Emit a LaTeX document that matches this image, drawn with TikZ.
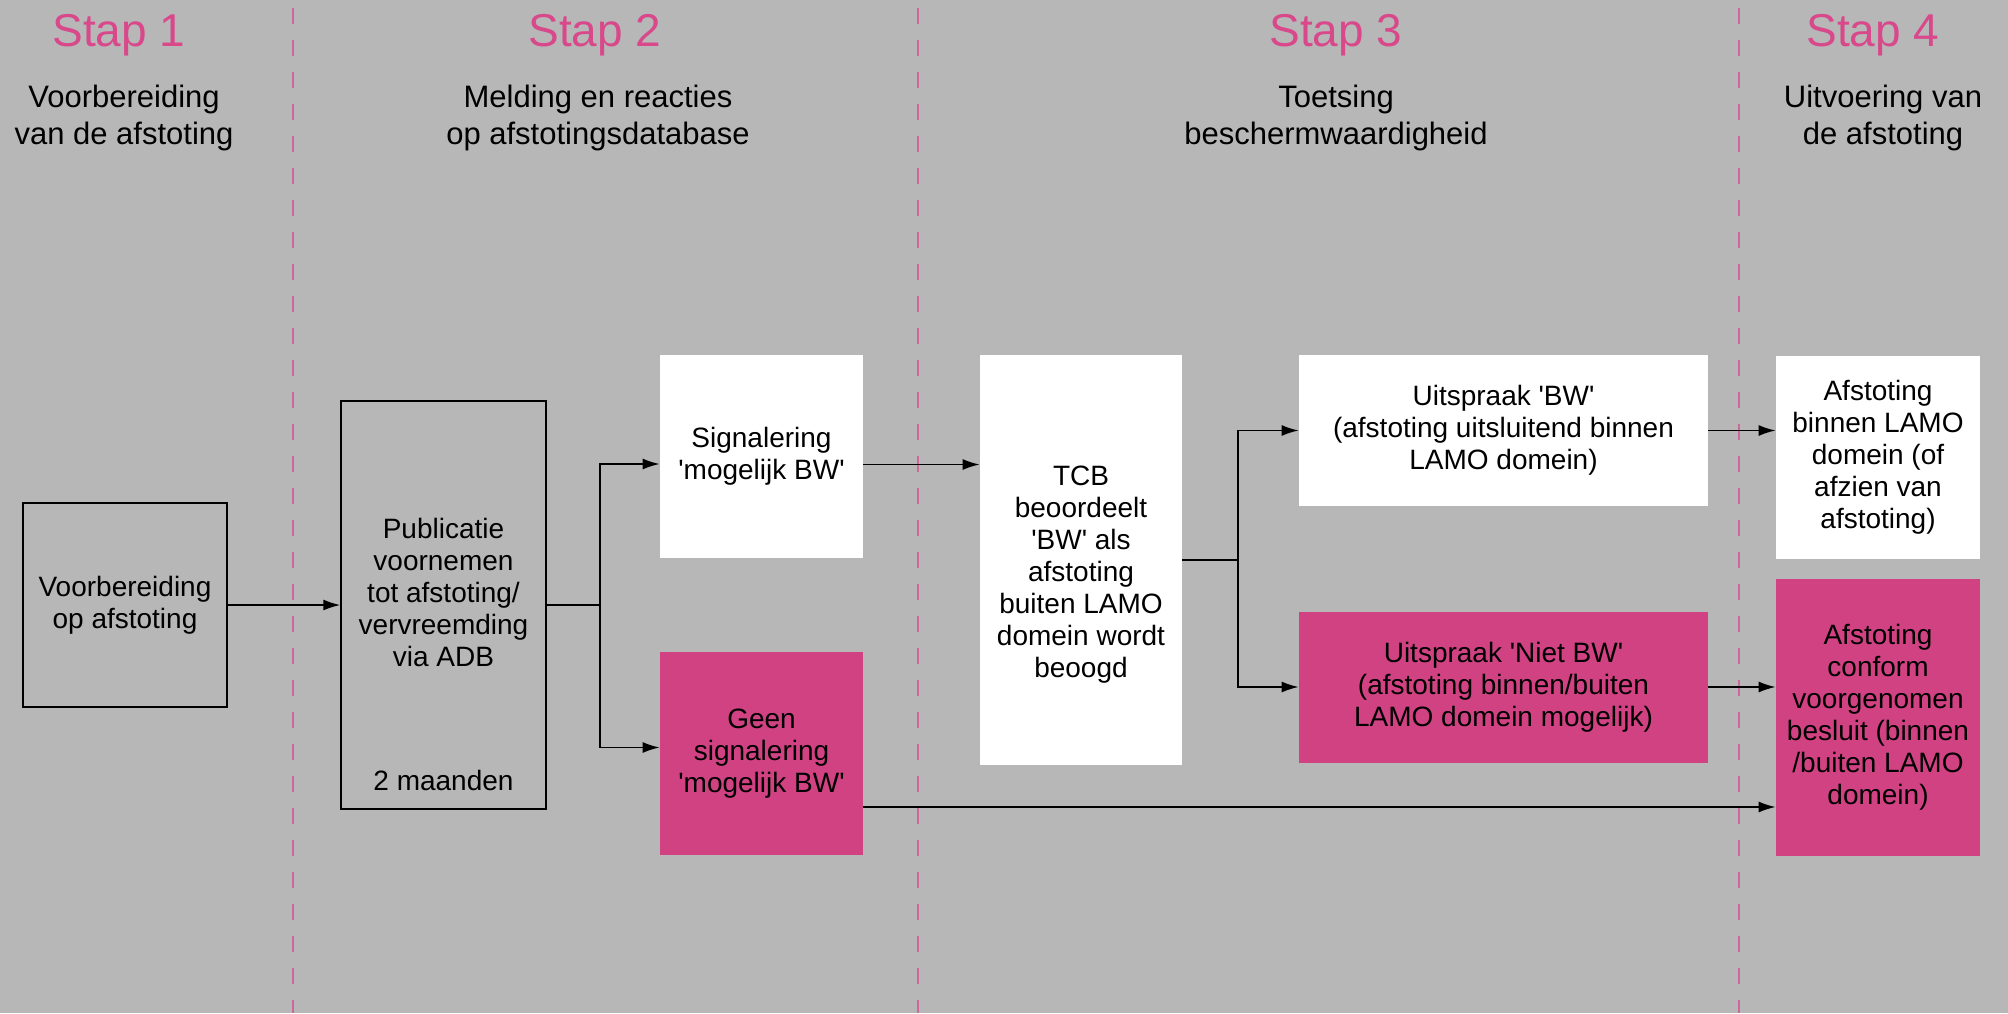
\documentclass[tikz,border=0pt]{standalone}
\usepackage{fontspec}
\setmainfont{Liberation Sans}
\usepackage{xcolor}
\usepackage{tikz}
\usetikzlibrary{arrows.meta}
\definecolor{stapgrey}{RGB}{183,183,183}
\definecolor{stappink}{RGB}{209,66,131}
\definecolor{titlepink}{RGB}{216,72,139}
\definecolor{dashpink}{RGB}{204,104,156}
\tikzset{>={Latex[length=8.5pt,width=5.5pt]}}
\newcommand{\q}{\textquotesingle}

\begin{document}
\begin{tikzpicture}[x=0.5pt, y=-0.5pt]
\tikzset{boxtext/.style={align=center, inner sep=2pt, font=\fontsize{14}{16}\selectfont},
    plainbox/.style={boxtext, draw=black, line width=0.75pt},
    whitebox/.style={boxtext, fill=white},
    pinkbox/.style={boxtext, fill=stappink},
    staptitle/.style={text=titlepink, font=\fontsize{23}{26}\selectfont},
    stapsub/.style={align=center, font=\fontsize{15.5}{18.5}\selectfont},
    divider/.style={draw=dashpink, line width=0.8pt, dash pattern=on 8pt off 8pt},
    conn/.style={line width=0.75pt}}
    \useasboundingbox (0,0) rectangle (2008,1013);
    \fill[stapgrey] (0,0) rectangle (2008,1013);

    \draw[divider] (293,8) -- (293,1013);
    \draw[divider] (918,8) -- (918,1013);
    \draw[divider] (1739,8) -- (1739,1013);

% % % % % % % % % % % % % % % % % % %
    \node[staptitle] (t1) at (119,35) {Stap 1};
    \node[staptitle] (t2) at (595,35) {Stap 2};
    \node[staptitle] (t3) at (1336,35) {Stap 3};
    \node[staptitle] (t4) at (1873,35) {Stap 4};

    \node[stapsub] (sub1) at (124,118) {Voorbereiding\\van de afstoting};
    \node[stapsub] (sub2) at (598,118) {Melding en reacties\\op afstotingsdatabase};
    \node[stapsub] (sub3) at (1336,118) {Toetsing\\beschermwaardigheid};
    \node[stapsub] (sub4) at (1883,118) {Uitvoering van\\de afstoting};

% % % % % % % % % % % % % % % % % % %
    \node[plainbox, minimum width=102pt, minimum height=102pt] (vb) at (125,605) {Voorbereiding\\op afstoting};
    \node[plainbox, minimum width=102.5pt, minimum height=204pt] (pub) at (443.5,605) {};
    \node[boxtext] (pubtext) at (443.5,592) {Publicatie\\voornemen\\tot afstoting/\\vervreemding\\via ADB};
    \node[boxtext] (pubtime) at (443.5,780) {2 maanden};

    \node[whitebox, minimum width=101.5pt, minimum height=101.5pt] (sig) at (761.5,456.5) {Signalering\\\q mogelijk BW\q};
    \node[pinkbox, minimum width=101.5pt, minimum height=101.5pt] (geen) at (761.5,753.5) {Geen\\signalering\\\q mogelijk BW\q};

    \node[whitebox, minimum width=101pt, minimum height=205pt] (tcb) at (1081,560) {};
    \node[boxtext] (tcbtext) at (1081,575) {TCB\\beoordeelt\\\q BW\q{} als\\afstoting\\buiten LAMO\\domein wordt\\beoogd};

    \node[whitebox, minimum width=204.5pt, minimum height=75.5pt] (bw) at (1503.5,430.5) {Uitspraak \q BW\q\\(afstoting uitsluitend binnen\\LAMO domein)};
    \node[pinkbox, minimum width=204.5pt, minimum height=75.5pt] (niet) at (1503.5,687) {Uitspraak \q Niet BW\q\\(afstoting binnen/buiten\\LAMO domein mogelijk)};

    \node[whitebox, minimum width=102pt, minimum height=101.5pt] (afb) at (1878,457) {Afstoting\\binnen LAMO\\domein (of\\afzien van\\afstoting)};
    \node[pinkbox, minimum width=102pt, minimum height=138.5pt] (afc) at (1878,717.5) {Afstoting\\conform\\voorgenomen\\besluit (binnen\\/buiten LAMO\\domein)};

% % % % % % % % % % % % % % % % % % %
    \coordinate (j1) at (600,605);
    \coordinate (j2) at (1238,560);

    \draw[conn,->] (vb) -- (pub);
    \draw[conn] (pub.east) -- (j1);
    \draw[conn,->] (j1) |- ([yshift=-3.75pt]sig.west);
    \draw[conn,->] (j1) |- ([yshift=3pt]geen.west);
    \draw[conn,->] ([yshift=-4pt]sig.east) -- ([yshift=-4pt]sig.east -| tcb.west);
    \draw[conn] (tcb.east |- j2) -- (j2);
    \draw[conn,->] (j2) |- (bw.west);
    \draw[conn,->] (j2) |- (niet.west);
    \draw[conn,->] (bw) -- (bw -| afb.west);
    \draw[conn,->] (niet) -- (niet -| afc.west);
    \draw[conn,->] ([yshift=-26.75pt]geen.east) -- ([yshift=-26.75pt]geen.east -| afc.west);
\end{tikzpicture}
\end{document}
